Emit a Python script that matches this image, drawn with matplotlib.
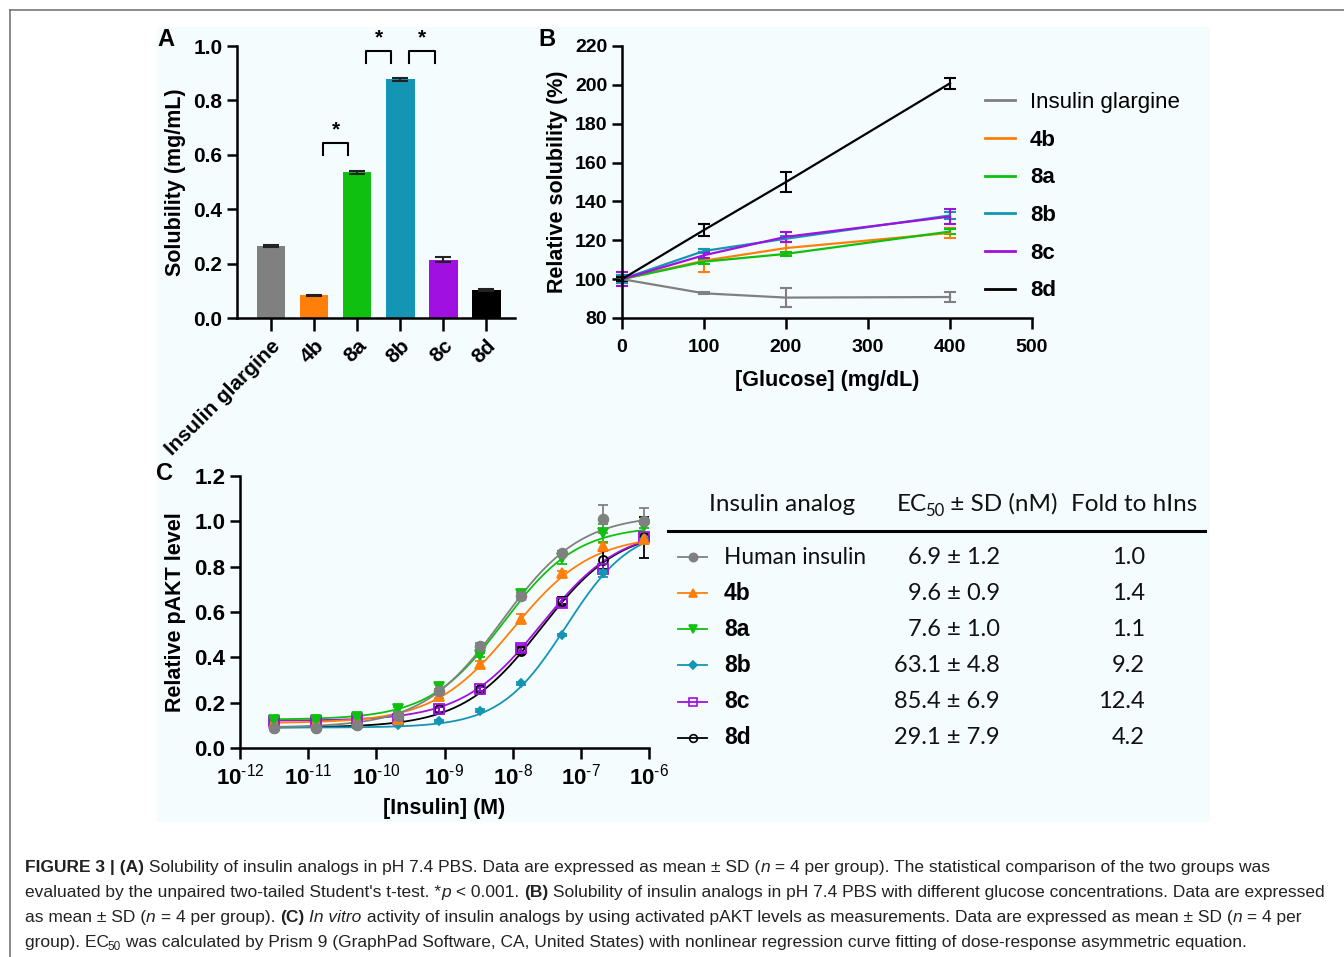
import numpy as np
import matplotlib
matplotlib.use("Agg")
import matplotlib.pyplot as plt
from matplotlib.lines import Line2D
from matplotlib.patches import Rectangle

# -------------------------------
# Data
# -------------------------------
# Panel A: solubility in PBS
a_names = ["Insulin glargine", "4b", "8a", "8b", "8c", "8d"]
a_values = [0.265, 0.083, 0.535, 0.877, 0.215, 0.103]
a_errors = [0.005, 0.002, 0.005, 0.006, 0.010, 0.003]
a_pairs = [(1, 2), (2, 3), (3, 4)]      # significance brackets
a_pair_tops = [0.643, 0.983, 0.983]

# Panel B: relative solubility vs glucose
glucose = [0, 100, 200, 400]
b_glargine = [100, 92.7, 90.5, 90.8]
b_glargine_err = [2.0, 0.6, 4.7, 2.5]
b_4b = [100, 109.5, 116, 123.8]
b_4b_err = [1.5, 6.0, 3.0, 2.5]
b_8a = [100, 109, 113, 124.5]
b_8a_err = [1.0, 1.0, 1.0, 1.5]
b_8b = [100, 114.5, 120.8, 132.8]
b_8b_err = [2.0, 1.0, 1.5, 2.0]
b_8c = [100, 112.3, 121.8, 132.2]
b_8c_err = [3.5, 1.5, 2.5, 4.0]
b_8d = [100, 125.3, 150, 200.8]
b_8d_err = [1.0, 3.0, 5.4, 2.7]

# Panel C: pAKT dose response
conc = [3.2e-12, 1.3e-11, 5.2e-11, 2.1e-10, 8.3e-10, 3.3e-9, 1.33e-8, 5.3e-8, 2.1e-7, 8.5e-7]
c_hins = [0.09, 0.09, 0.10, 0.14, 0.25, 0.45, 0.67, 0.86, 1.01, 1.00]
c_hins_err = [0.005, 0.005, 0.005, 0.010, 0.010, 0.015, 0.015, 0.010, 0.060, 0.060]
c_4b = [0.11, 0.11, 0.12, 0.13, 0.23, 0.37, 0.57, 0.77, 0.89, 0.92]
c_4b_err = [0.005, 0.005, 0.005, 0.005, 0.010, 0.015, 0.020, 0.010, 0.015, 0.010]
c_8a = [0.125, 0.125, 0.135, 0.17, 0.27, 0.41, 0.68, 0.84, 0.95, 0.98]
c_8a_err = [0.005, 0.005, 0.005, 0.010, 0.015, 0.010, 0.015, 0.030, 0.040, 0.010]
c_8b = [0.09, 0.09, 0.095, 0.10, 0.12, 0.165, 0.285, 0.50, 0.77, 0.92]
c_8b_err = [0.005, 0.005, 0.005, 0.005, 0.005, 0.005, 0.005, 0.005, 0.015, 0.020]
c_8c = [0.12, 0.12, 0.13, 0.13, 0.17, 0.26, 0.44, 0.64, 0.79, 0.93]
c_8c_err = [0.005, 0.005, 0.005, 0.005, 0.010, 0.010, 0.015, 0.020, 0.020, 0.015]
c_8d = [0.09, 0.09, 0.10, 0.12, 0.17, 0.26, 0.43, 0.65, 0.83, 0.93]
c_8d_err = [0.005, 0.005, 0.005, 0.005, 0.010, 0.010, 0.015, 0.015, 0.040, 0.090]

# 4PL fit parameters (bottom, top, logEC50, hill)
fit_bottom = [0.09, 0.11, 0.125, 0.09, 0.12, 0.09]
fit_top = [1.03, 0.94, 0.98, 0.98, 0.97, 0.97]
fit_logec50 = [-8.16, -8.00, -8.14, -7.22, -7.58, -7.58]
fit_hill = [0.75, 0.75, 0.80, 0.90, 0.75, 0.75]

# table
t_names = ["Human insulin", "4b", "8a", "8b", "8c", "8d"]
t_ec50 = ["6.9 ± 1.2", "9.6 ± 0.9", "7.6 ± 1.0", "63.1 ± 4.8", "85.4 ± 6.9", "29.1 ± 7.9"]
t_fold = ["1.0", "1.4", "1.1", "9.2", "12.4", "4.2"]

# colours
GRAY = "#808080"
ORANGE = "#ff7f0a"
GREEN = "#10c010"
TEAL = "#1495b4"
PURPLE = "#a010e0"
BLACK = "#000000"
a_colors = [GRAY, ORANGE, GREEN, TEAL, PURPLE, BLACK]

# -------------------------------
# Figure setup
# -------------------------------
W, H = 1344, 957
plt.rcParams["font.family"] = ["Liberation Sans", "DejaVu Sans"]
plt.rcParams["mathtext.fontset"] = "custom"
plt.rcParams["mathtext.rm"] = "Liberation Sans"
plt.rcParams["mathtext.bf"] = "Liberation Sans:bold"
plt.rcParams["axes.linewidth"] = 1.8

fig = plt.figure(figsize=(W / 100, H / 100), dpi=100)
fig.patch.set_facecolor("white")


def fx(x):
    return x / W


def fy(y):
    return 1 - y / H


def box(left, top, right, bottom):
    return [fx(left), fy(bottom), fx(right) - fx(left), fy(top) - fy(bottom)]


# light panel background and outer frame
fig.patches.append(Rectangle((fx(157), fy(822)), fx(1210) - fx(157), fy(27) - fy(822),
                             transform=fig.transFigure, facecolor="#f4fcfd",
                             edgecolor="none", zorder=-5))
fig.add_artist(Line2D([fx(10), 1], [fy(10), fy(10)], color="#777777", lw=1.2))
fig.add_artist(Line2D([fx(10), fx(10)], [fy(10), 0], color="#777777", lw=1.2))


def style_axes(ax, size):
    ax.set_facecolor("none")
    ax.spines["top"].set_visible(False)
    ax.spines["right"].set_visible(False)
    ax.tick_params(direction="out", length=7, width=1.8, labelsize=size)
    for lab in ax.get_xticklabels() + ax.get_yticklabels():
        lab.set_fontweight("bold")


# -------------------------------
# Panel A
# -------------------------------
axA = fig.add_axes(box(237, 46, 515, 318))
xa = np.arange(len(a_names))
axA.bar(xa, a_values, width=0.67, color=a_colors, zorder=2)
axA.errorbar(xa, a_values, yerr=a_errors, fmt="none", ecolor="#222222",
             elinewidth=1.5, capsize=6, capthick=1.5, zorder=3)
for (i, j), top in zip(a_pairs, a_pair_tops):
    axA.plot([i + 0.2, i + 0.2, j - 0.2, j - 0.2], [top - 0.045, top, top, top - 0.045],
             color="black", lw=1.5, clip_on=False)
    axA.text((i + j) / 2, top + 0.012, "*", ha="center", va="bottom",
             fontsize=15, fontweight="bold")
axA.set_xlim(-0.79, 5.67)
axA.set_ylim(0, 1.0)
axA.set_yticks([0, 0.2, 0.4, 0.6, 0.8, 1.0])
axA.set_yticklabels(["0.0", "0.2", "0.4", "0.6", "0.8", "1.0"])
axA.set_xticks(xa)
axA.set_xticklabels(a_names, rotation=45, ha="right", rotation_mode="anchor")
axA.set_ylabel("Solubility (mg/mL)", fontsize=15.5, fontweight="bold", labelpad=5)
style_axes(axA, 15)
axA.tick_params(axis="x", length=9, pad=4)

# -------------------------------
# Panel B
# -------------------------------
axB = fig.add_axes(box(622, 46, 1032, 318))
b_series = [
    ("Insulin glargine", b_glargine, b_glargine_err, GRAY),
    ("4b", b_4b, b_4b_err, ORANGE),
    ("8a", b_8a, b_8a_err, GREEN),
    ("8b", b_8b, b_8b_err, TEAL),
    ("8c", b_8c, b_8c_err, PURPLE),
    ("8d", b_8d, b_8d_err, BLACK),
]
handles = []
for name, vals, errs, col in b_series:
    axB.errorbar(glucose, vals, yerr=errs, color=col, lw=1.6, elinewidth=1.5,
                 capsize=4, capthick=1.5, clip_on=False)
    handles.append(Line2D([], [], color=col, lw=2))
axB.set_xlim(0, 500)
axB.set_ylim(80, 220)
axB.set_xticks([0, 100, 200, 300, 400, 500])
axB.set_yticks(np.arange(80, 221, 20))
axB.set_xlabel("[Glucose] (mg/dL)", fontsize=15.5, fontweight="bold", labelpad=10)
axB.set_ylabel("Relative solubility (%)", fontsize=15.5, fontweight="bold", labelpad=5)
style_axes(axB, 14)
axB.tick_params(axis="x", length=8, pad=7)
leg = axB.legend(handles, [s[0] for s in b_series], loc="upper left",
                 bbox_to_anchor=(fx(965), fy(72)), bbox_transform=fig.transFigure,
                 frameon=False, fontsize=16, handlelength=1.35, handletextpad=0.68,
                 labelspacing=0.75)
for k, t in enumerate(leg.get_texts()):
    t.set_fontweight("normal" if k == 0 else "bold")

# -------------------------------
# Panel C
# -------------------------------
axC = fig.add_axes(box(240, 476, 649, 748))
c_series = [
    ("Human insulin", c_hins, c_hins_err, GRAY, "o", GRAY, 7),
    ("4b", c_4b, c_4b_err, ORANGE, "^", ORANGE, 7),
    ("8a", c_8a, c_8a_err, GREEN, "v", GREEN, 7),
    ("8b", c_8b, c_8b_err, TEAL, "D", TEAL, 4.5),
    ("8c", c_8c, c_8c_err, PURPLE, "s", "none", 6.5),
    ("8d", c_8d, c_8d_err, BLACK, "o", "none", 6.5),
]
xfit = np.logspace(np.log10(conc[0]), np.log10(conc[-1]), 300)
draw_order = [5, 4, 3, 1, 2, 0]
for k in draw_order:
    name, vals, errs, col, mk, fc, ms = c_series[k]
    yfit = fit_bottom[k] + (fit_top[k] - fit_bottom[k]) / (
        1 + 10 ** ((fit_logec50[k] - np.log10(xfit)) * fit_hill[k]))
    axC.plot(xfit, yfit, color=col, lw=1.3, zorder=2)
    axC.errorbar(conc, vals, yerr=errs, fmt=mk, color=col, mfc=fc, mec=col,
                 ms=ms, mew=1.3, elinewidth=1.3, capsize=3.5, capthick=1.3, zorder=3)
axC.set_xscale("log")
axC.set_xlim(1e-12, 1e-6)
axC.set_ylim(0, 1.2)
dec = [-12, -11, -10, -9, -8, -7, -6]
axC.set_xticks([10.0 ** d for d in dec])
axC.set_xticklabels([r"$\mathbf{10^{\text{-%d}}}$" % (-d) for d in dec])
axC.xaxis.set_minor_locator(matplotlib.ticker.NullLocator())
axC.set_yticks([0, 0.2, 0.4, 0.6, 0.8, 1.0, 1.2])
axC.set_yticklabels(["0.0", "0.2", "0.4", "0.6", "0.8", "1.0", "1.2"])
axC.set_xlabel("[Insulin] (M)", fontsize=15.5, fontweight="bold", labelpad=6)
axC.set_ylabel("Relative pAKT level", fontsize=15.5, fontweight="bold", labelpad=6)
style_axes(axC, 16)
axC.tick_params(axis="x", length=8, labelsize=16)

# panel letters
for letter, (x, y) in zip("ABC", [(157, 39), (538, 39), (156, 474)]):
    fig.text(fx(x), fy(y), letter, fontsize=17, fontweight="bold", va="center")

# -------------------------------
# Table next to panel C
# -------------------------------
TFONT = ["Lato", "DejaVu Sans"]
renderer = fig.canvas.get_renderer()


def put_runs(x, y, runs, size, family, color="#111111"):
    for txt, style in runs:
        kw = dict(fontsize=size, family=family, color=color)
        dy = 0
        if "b" in style:
            kw["fontweight"] = "bold"
        if "i" in style:
            kw["fontstyle"] = "italic"
        if "s" in style:
            kw["fontsize"] = size * 0.68
            dy = size * 0.28
            x -= size * 0.12
        t = fig.text(fx(x), fy(y + dy), txt, ha="left", va="baseline", **kw)
        x += t.get_window_extent(renderer=renderer).width
    return x


put_runs(709, 511, [("Insulin analog", "")], 17.5, TFONT)
put_runs(897, 511, [("EC", ""), ("50", "s"), (" ± SD (nM)", "")], 17.5, TFONT)
put_runs(1071, 511, [("Fold to hIns", "")], 17.5, TFONT)
fig.add_artist(Line2D([fx(668), fx(1205)], [fy(531), fy(531)], color="black", lw=2.2))

row_y = [557, 593, 629, 665, 702, 738]
for k, y in enumerate(row_y):
    name, vals, errs, col, mk, fc, ms = c_series[k]
    fig.add_artist(Line2D([fx(678), fx(707)], [fy(y), fy(y)], color=col, lw=1.3))
    fig.add_artist(Line2D([fx(692.5)], [fy(y)], color=col, lw=0, marker=mk,
                          mfc=fc, mec=col, ms=ms * 0.85, mew=1.2))
    if k == 0:
        fig.text(fx(724), fy(y), t_names[k], fontsize=16.3, family=TFONT,
                 va="center", color="#111111")
    else:
        fig.text(fx(724), fy(y), t_names[k], fontsize=16.5, fontweight="bold",
                 va="center")
    fig.text(fx(1000), fy(y), t_ec50[k], fontsize=17, family=TFONT,
             ha="right", va="center", color="#111111")
    fig.text(fx(1145), fy(y), t_fold[k], fontsize=17, family=TFONT,
             ha="right", va="center", color="#111111")

# -------------------------------
# Caption
# -------------------------------
CFONT = ["Liberation Sans Narrow", "Liberation Sans"]
cap_size = 12.5
caption = [
    [("FIGURE 3 | (A)", "b"), (" Solubility of insulin analogs in pH 7.4 PBS. Data are expressed as mean ± SD (", ""),
     ("n", "i"), (" = 4 per group). The statistical comparison of the two groups was", "")],
    [("evaluated by the unpaired two-tailed Student's t-test. *", ""), ("p", "i"), (" < 0.001. ", ""),
     ("(B)", "b"), (" Solubility of insulin analogs in pH 7.4 PBS with different glucose concentrations. Data are expressed", "")],
    [("as mean ± SD (", ""), ("n", "i"), (" = 4 per group). ", ""), ("(C)", "b"), (" ", ""), ("In vitro", "i"),
     (" activity of insulin analogs by using activated pAKT levels as measurements. Data are expressed as mean ± SD (", ""),
     ("n", "i"), (" = 4 per", "")],
    [("group). EC", ""), ("50", "s"),
     (" was calculated by Prism 9 (GraphPad Software, CA, United States) with nonlinear regression curve fitting of dose-response asymmetric equation.", "")],
]
for line, y in zip(caption, [872, 897, 922, 947]):
    put_runs(25, y, line, cap_size, CFONT, color="#222222")

fig.savefig("out.png", dpi=100)
